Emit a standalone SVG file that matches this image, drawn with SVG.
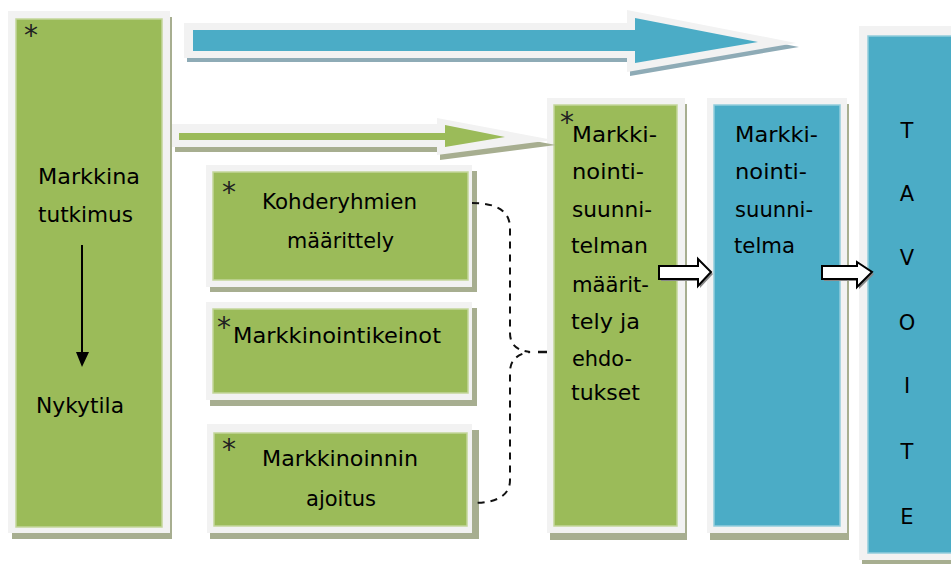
<svg xmlns="http://www.w3.org/2000/svg" width="951" height="564" viewBox="0 0 951 564">
<defs>
<style>
.shg{fill:#a7ae90}
.shb{fill:#8eabb6}
.fr{fill:#f2f2f2}
.g{fill:#9bbb59;stroke:#c3d69b;stroke-width:1.5}
.b{fill:#4bacc6;stroke:#92cddc;stroke-width:1.5}
.t{font-family:"DejaVu Sans",Verdana,sans-serif;font-size:21px;fill:#000}
.big{font-size:21px}
.ast{font-family:"DejaVu Sans",sans-serif;font-size:28px;fill:#222;text-anchor:middle}
.dash{fill:none;stroke:#111;stroke-width:2;stroke-dasharray:7 6}
.wa{fill:#fff;stroke:#000;stroke-width:2}
.was{fill:#888}
</style>
</defs>
<rect width="951" height="564" fill="#fff"/>

<g id="markkinatutkimus">
<rect class="shg" x="12" y="17" width="160" height="522"/>
<rect class="fr" x="8" y="11" width="162" height="522"/>
<rect class="g" x="16" y="19" width="146" height="508"/>
<text class="ast" x="31" y="45">*</text>
<text class="t" x="38" y="184" textLength="102" lengthAdjust="spacingAndGlyphs">Markkina</text>
<text class="t" x="38" y="222" textLength="95" lengthAdjust="spacingAndGlyphs">tutkimus</text>
<text class="t" x="36" y="413" textLength="88" lengthAdjust="spacingAndGlyphs">Nykytila</text>
</g>

<g id="kohderyhmat">
<rect class="shg" x="210" y="171" width="267" height="121"/>
<rect class="fr" x="206" y="165" width="266" height="122"/>
<rect class="g" x="213" y="172" width="255" height="108"/>
<text class="ast" x="229" y="202">*</text>
<text class="t" x="262" y="209" textLength="155" lengthAdjust="spacingAndGlyphs">Kohderyhmien</text>
<text class="t" x="287" y="248" textLength="107" lengthAdjust="spacingAndGlyphs">määrittely</text>
</g>

<g id="keinot">
<rect class="shg" x="210" y="308" width="267" height="98"/>
<rect class="fr" x="206" y="302" width="266" height="98"/>
<rect class="g" x="213" y="309" width="255" height="84"/>
<text class="ast" x="224" y="337">*</text>
<text class="t" x="233" y="343" textLength="208" lengthAdjust="spacingAndGlyphs">Markkinointikeinot</text>
</g>

<g id="ajoitus">
<rect class="shg" x="210" y="430" width="269" height="109"/>
<rect class="fr" x="207" y="424" width="265" height="109"/>
<rect class="g" x="214" y="433" width="253" height="93"/>
<text class="ast" x="229" y="459">*</text>
<text class="t" x="262" y="466" textLength="156" lengthAdjust="spacingAndGlyphs">Markkinoinnin</text>
<text class="t" x="306" y="506" textLength="70" lengthAdjust="spacingAndGlyphs">ajoitus</text>
</g>

<g id="maarittely">
<rect class="shg" x="550" y="104" width="137" height="436"/>
<rect class="fr" x="547" y="98" width="138" height="435"/>
<rect class="g" x="554" y="105" width="123" height="421"/>
<text class="ast" x="567" y="132">*</text>
<text class="t" x="572" y="142" textLength="85" lengthAdjust="spacingAndGlyphs">Markki-</text>
<text class="t" x="572" y="179" textLength="72" lengthAdjust="spacingAndGlyphs">nointi-</text>
<text class="t" x="572" y="217" textLength="80" lengthAdjust="spacingAndGlyphs">suunni-</text>
<text class="t" x="571" y="253" textLength="77" lengthAdjust="spacingAndGlyphs">telman</text>
<text class="t" x="572" y="292" textLength="77" lengthAdjust="spacingAndGlyphs">määrit-</text>
<text class="t" x="571" y="329" textLength="69" lengthAdjust="spacingAndGlyphs">tely ja</text>
<text class="t" x="572" y="366" textLength="60" lengthAdjust="spacingAndGlyphs">ehdo-</text>
<text class="t" x="571" y="400" textLength="69" lengthAdjust="spacingAndGlyphs">tukset</text>
</g>

<g id="suunnitelma">
<rect class="shg" x="710" y="104" width="139" height="436"/>
<rect class="fr" x="707" y="98" width="140" height="435"/>
<rect class="b" x="714" y="105" width="126" height="421"/>
<text class="t" x="735" y="142" textLength="83" lengthAdjust="spacingAndGlyphs">Markki-</text>
<text class="t" x="735" y="179" textLength="72" lengthAdjust="spacingAndGlyphs">nointi-</text>
<text class="t" x="735" y="217" textLength="78" lengthAdjust="spacingAndGlyphs">suunni-</text>
<text class="t" x="734" y="253" textLength="61" lengthAdjust="spacingAndGlyphs">telma</text>
</g>

<g id="connectors">
<polygon class="shb" transform="translate(3,4)" points="184,23 627,23 627,10 796,43 627,72 627,58 184,58"/>
<polygon class="fr" points="184,23 627,23 627,10 796,43 627,72 627,58 184,58"/>
<polygon fill="#4bacc6" points="193,30 635,30 635,18 758,42 635,63 635,51 193,51"/>

<polygon class="shg" transform="translate(3,5)" points="172,124 437,124 437,118 553,140 437,155 437,147 172,147"/>
<polygon class="fr" points="172,124 437,124 437,118 553,140 437,155 437,147 172,147"/>
<polygon fill="#9bbb59" points="179,133 445,133 445,125 505,137 445,147 445,140 179,140"/>

<path class="dash" d="M472,203 Q510,203 510,228 L510,333 Q510,350 530,352 Q510,355 510,372 L510,480 Q510,503 472,503"/>
<path d="M538,352 L547,352" fill="none" stroke="#111" stroke-width="2.5"/>

<line x1="82" y1="245" x2="82" y2="355" stroke="#000" stroke-width="2"/>
<polygon fill="#000" points="76,352 89,352 82,367"/>

<polygon class="was" transform="translate(2,2)" points="659,266 698,266 698,259 711,272 698,286 698,279 659,279"/>
<polygon class="wa" points="659,266 698,266 698,259 711,272 698,286 698,279 659,279"/>
</g>

<g id="tavoite">
<rect class="shg" x="862" y="32" width="95" height="532"/>
<rect class="fr" x="859" y="26" width="100" height="534"/>
<rect class="b" x="868" y="36" width="90" height="517"/>
<text class="t big" x="907" y="138" text-anchor="middle">T</text>
<text class="t big" x="907" y="201" text-anchor="middle">A</text>
<text class="t big" x="907" y="265" text-anchor="middle">V</text>
<text class="t big" x="907" y="330" text-anchor="middle">O</text>
<text class="t big" x="907" y="393" text-anchor="middle">I</text>
<text class="t big" x="907" y="459" text-anchor="middle">T</text>
<text class="t big" x="907" y="524" text-anchor="middle">E</text>
</g>

<g id="connectors-2">
<polygon class="was" transform="translate(2,2)" points="822,266 857,266 857,262 872,272 857,287 857,279 822,279"/>
<polygon class="wa" points="822,266 857,266 857,262 872,272 857,287 857,279 822,279"/>
</g>
</svg>
